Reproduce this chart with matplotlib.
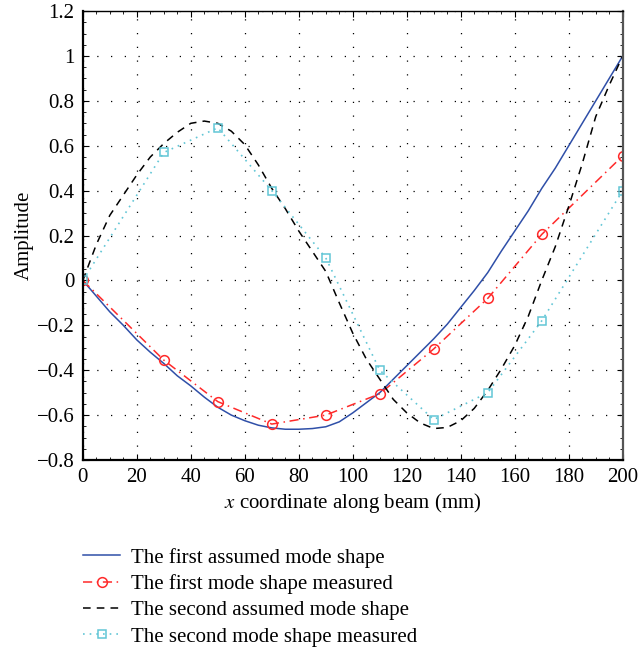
import numpy as np
import matplotlib
matplotlib.use("Agg")
import matplotlib.pyplot as plt
from matplotlib.ticker import MultipleLocator, FuncFormatter

plt.rcParams['font.family'] = ['Liberation Serif', 'DejaVu Serif']
plt.rcParams['mathtext.fontset'] = 'stix'

# assumed mode shapes, every 5 mm
x_assumed = [0, 5, 10, 15, 20, 25, 30, 35, 40, 45, 50, 55, 60, 65, 70, 75, 80, 85, 90, 95, 100,
             105, 110, 115, 120, 125, 130, 135, 140, 145, 150, 155, 160, 165, 170, 175, 180,
             185, 190, 195, 200]
first_assumed = [0, -0.07, -0.14, -0.20, -0.265, -0.32, -0.37, -0.425, -0.47, -0.52, -0.565,
                 -0.60, -0.625, -0.645, -0.657, -0.663, -0.663, -0.66, -0.652, -0.63, -0.59,
                 -0.545, -0.50, -0.44, -0.38, -0.32, -0.26, -0.195, -0.12, -0.045, 0.035,
                 0.13, 0.22, 0.31, 0.41, 0.50, 0.60, 0.70, 0.80, 0.90, 1.0]
second_assumed = [0, 0.16, 0.29, 0.38, 0.47, 0.55, 0.61, 0.66, 0.70, 0.71, 0.70, 0.665, 0.605,
                  0.515, 0.41, 0.32, 0.22, 0.13, 0.04, -0.10, -0.235, -0.35, -0.44, -0.53,
                  -0.59, -0.635, -0.66, -0.655, -0.625, -0.57, -0.49, -0.395, -0.29, -0.16,
                  0.0, 0.15, 0.33, 0.52, 0.73, 0.87, 1.0]

# measured points
x_measured = [0, 30, 50, 70, 90, 110, 130, 150, 170, 200]
first_measured = [0, -0.355, -0.54, -0.64, -0.60, -0.505, -0.305, -0.08, 0.205, 0.555]
second_measured = [0, 0.57, 0.68, 0.40, 0.10, -0.40, -0.62, -0.50, -0.18, 0.40]

labels = ["The first assumed mode shape",
          "The first mode shape measured",
          "The second assumed mode shape",
          "The second mode shape measured"]

fs = 15
fig = plt.figure(figsize=(6.42, 6.52), dpi=100)
ax = fig.add_axes([0.129, 0.2945, 0.841, 0.6885])

ax.plot(x_assumed, first_assumed, color='#2f4fa8', lw=1.1, label=labels[0])
ax.plot(x_measured, first_measured, color='#ff2a2a', lw=1.1, ls=(0, (6, 3, 1, 3)),
        marker='o', ms=7, mfc='none', mec='#ff2a2a', mew=1.1, label=labels[1])
ax.plot(x_assumed, second_assumed, color='black', lw=1.1, ls=(0, (5, 4)), label=labels[2])
ax.plot(x_measured, second_measured, color='#62c6d6', lw=1.2, ls=(0, (1, 3)),
        marker='s', ms=6, mfc='none', mec='#62c6d6', mew=1.1, label=labels[3])

ax.set_xlim(0, 200)
ax.set_ylim(-0.8, 1.2)
ax.xaxis.set_major_locator(MultipleLocator(20))
ax.xaxis.set_minor_locator(MultipleLocator(5))
ax.yaxis.set_major_locator(MultipleLocator(0.2))
ax.yaxis.set_minor_locator(MultipleLocator(0.05))
ax.yaxis.set_major_formatter(FuncFormatter(lambda v, p: ('%g' % round(v, 2)).replace('-', '\u2212')))
ax.tick_params(which='both', direction='in', top=True, right=True, labelsize=fs)
ax.tick_params(which='major', length=4, pad=6)
ax.tick_params(which='minor', length=2)
ax.grid(True, which='major', color='black', ls=(0, (1, 10)), lw=0.9)

for s in ['left', 'bottom']:
    ax.spines[s].set_linewidth(1.6)
ax.spines['right'].set_linewidth(1.6)
ax.spines['right'].set_color('#555555')
ax.spines['top'].set_linewidth(1.0)

ax.set_xlabel(r'$x$ coordinate along beam (mm)', fontsize=fs, labelpad=3)
ax.set_ylabel('Amplitude', fontsize=fs, labelpad=2)

fig.legend(loc='upper left', bbox_to_anchor=(0.129, 0.160), frameon=False, fontsize=fs,
           handlelength=1.8, handletextpad=0.5, labelspacing=0.32, borderpad=0,
           borderaxespad=0)

fig.savefig('out.png', dpi=100)
